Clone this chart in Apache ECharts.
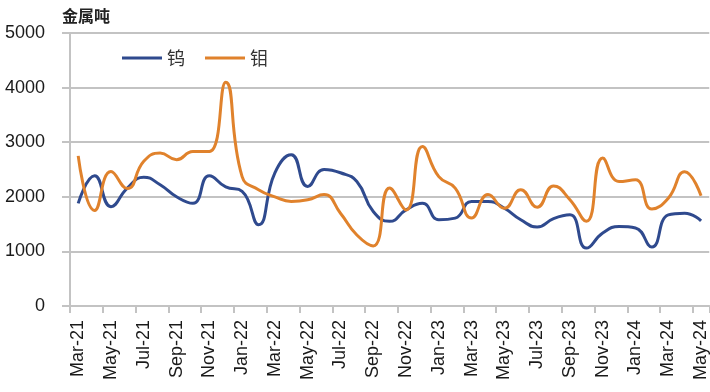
<!DOCTYPE html>
<html>
<head>
<meta charset="utf-8">
<script src="https://cdn.jsdelivr.net/npm/echarts@6/dist/echarts.min.js"></script>
<style>
html,body{margin:0;padding:0;background:#fff;}
#c{width:710px;height:392px;}
</style>
</head>
<body>
<div id="c"></div>
<script>
var months = ['Mar-21','Apr-21','May-21','Jun-21','Jul-21','Aug-21','Sep-21','Oct-21','Nov-21','Dec-21',
  'Jan-22','Feb-22','Mar-22','Apr-22','May-22','Jun-22','Jul-22','Aug-22','Sep-22','Oct-22','Nov-22','Dec-22',
  'Jan-23','Feb-23','Mar-23','Apr-23','May-23','Jun-23','Jul-23','Aug-23','Sep-23','Oct-23','Nov-23','Dec-23',
  'Jan-24','Feb-24','Mar-24','Apr-24','May-24'];
var tungsten = [1880,2385,1820,2160,2360,2220,2000,1880,2385,2180,
  2100,1490,2440,2770,2190,2500,2440,2280,1730,1550,1760,1880,
  1580,1610,1915,1915,1790,1580,1445,1600,1670,1060,1335,1455,
  1430,1080,1670,1700,1560];
var molybdenum = [2750,1750,2465,2150,2650,2800,2680,2830,2830,4100,
  2370,2130,2000,1915,1945,2040,1700,1300,1100,2160,1760,2920,
  2370,2160,1610,2040,1790,2130,1810,2200,1945,1550,2710,2280,
  2310,1775,1975,2460,2020];
var yTicks = [0,1000,2000,3000,4000,5000];
var seriesNames = ['钨','钼'];
var unitLabel = '金属吨';

var chart = echarts.init(document.getElementById('c'));
var grayLine = {color:'#c3c3c3', width:2};
chart.setOption({
  animation:false,
  backgroundColor:'#fff',
  textStyle:{fontFamily:'"Liberation Sans", "Noto Sans CJK SC", sans-serif'},
  title:{text:unitLabel,left:57,top:3,textStyle:{fontSize:16,fontWeight:'bold',color:'#222',fontFamily:'"Noto Sans CJK SC", sans-serif'}},
  legend:{
    left:117, top:44, itemWidth:40, itemHeight:3, itemGap:20, icon:'rect',
    data:seriesNames,
    textStyle:{fontSize:18,color:'#333',fontFamily:'"Noto Sans CJK SC", sans-serif'}
  },
  grid:{left:70,right:-4,top:33,bottom:86,containLabel:false},
  xAxis:{
    type:'category', data:months, boundaryGap:true,
    axisLine:{lineStyle:grayLine},
    axisTick:{show:true,interval:1,length:7,lineStyle:grayLine},
    axisLabel:{interval:1,rotate:90,margin:14,fontSize:18,color:'#1a1a1a'},
    splitLine:{show:false}
  },
  yAxis:{
    type:'value', min:yTicks[0], max:yTicks[yTicks.length-1], interval:1000,
    axisLine:{show:true,lineStyle:grayLine},
    axisTick:{show:true,length:8,lineStyle:grayLine},
    axisLabel:{margin:25,fontSize:18,color:'#1a1a1a',formatter:function(v){return String(v);}},
    splitLine:{show:true,lineStyle:grayLine}
  },
  series:[
    {name:seriesNames[0],type:'line',data:tungsten,smooth:0.5,symbol:'none',
     lineStyle:{width:3,color:'#2f4a8e'},itemStyle:{color:'#2f4a8e'}},
    {name:seriesNames[1],type:'line',data:molybdenum,smooth:0.5,symbol:'none',
     lineStyle:{width:3,color:'#e0822c'},itemStyle:{color:'#e0822c'}}
  ]
});
</script>
</body>
</html>
